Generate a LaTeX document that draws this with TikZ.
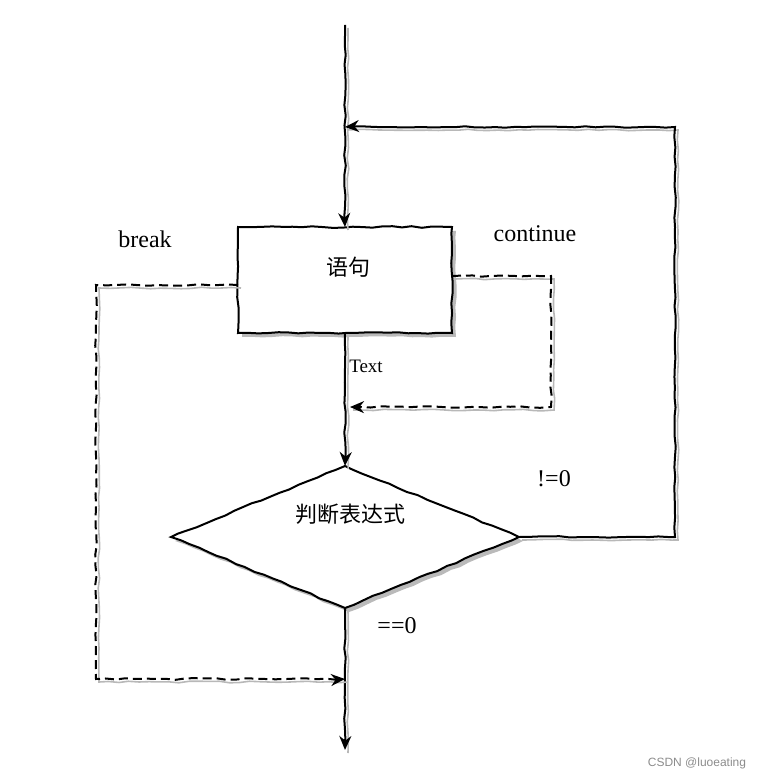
\documentclass[tikz,border=0pt]{standalone}
\usepackage{fontspec}
\setmainfont{Liberation Serif}
\newfontfamily\cjk{Noto Sans CJK SC}
\newfontfamily\wmfont{Liberation Sans}
\usetikzlibrary{arrows.meta,positioning,calc,shapes.geometric,decorations.pathmorphing,shadows}

\pgfmathsetseed{7}
\tikzset{
  sketch/.style={decorate, decoration={random steps, segment length=10pt, amplitude=0.8pt}},
  ghost/.style={preaction={draw=black!28, line width=1.6pt, arrows=-, transform canvas={shift={(3pt,-3pt)}}}},
  flow/.style={sketch, ghost, line width=2pt, -{Stealth[length=14pt,width=12pt]}},
  jump/.style={flow, dash pattern=on 9pt off 5pt},
  stmtbox/.style={draw, sketch, line width=2pt, fill=white, inner sep=0, outer sep=0,
    minimum width=214pt, minimum height=106pt,
    drop shadow={shadow xshift=4pt, shadow yshift=-4pt, fill=black!30, opacity=0.9}},
  testbox/.style={draw, diamond, sketch, line width=2pt, fill=white, inner sep=0, outer sep=0,
    minimum width=348pt, minimum height=142pt,
    drop shadow={shadow xshift=4pt, shadow yshift=-4pt, fill=black!30, opacity=0.9}},
  cjklabel/.style={font=\cjk\fontsize{22}{26}\selectfont},
  lbl/.style={font=\fontsize{24}{28}\selectfont},
  wmark/.style={font=\wmfont\fontsize{12}{14}\selectfont, text=black!45}
}

\begin{document}
\begin{tikzpicture}[x=1pt, y=1pt]
  \useasboundingbox (0,0) rectangle (763,-776);

  % shapes
  \node[stmtbox] (stmt) at (345,-280) {};
  \node[testbox] (cond) at (345,-537) {};
  \node[cjklabel] (stmttext) at (348,-267) {语句};
  \node[cjklabel] (condtext) at (350,-514) {判断表达式};

  % helper points
  \coordinate (start) at (345,-25);
  \coordinate (loopc) at (675,-127);
  \coordinate (contc) at (551,-407);
  \coordinate (brkc) at (96,-679);
  \coordinate (finish) at (345,-750);

  % main flow
  \draw[flow] (start) -- (stmt.north);
  \draw[flow] (stmt.south) -- (cond.north);
  \draw[flow] (cond.south) -- (finish);
  \draw[flow] (cond.east) -- (cond.east -| loopc) -- (loopc) -- (loopc -| stmt.north);

  % jumps
  \draw[jump] ($(stmt.east)+(0,4)$) -- ($(stmt.east -| contc)+(0,4)$) -- (contc)
    -- ($(contc -| stmt.south)+(5,0)$);
  \draw[jump] ($(stmt.west)+(0,-5)$) -- ($(stmt.west -| brkc)+(0,-5)$) -- (brkc)
    -- (brkc -| stmt.south);

  % labels
  \node[lbl] (brklbl) at (145,-239) {break};
  \node[lbl] (contlbl) at (535,-234) {continue};
  \node[font=\fontsize{19}{22}\selectfont] (textlbl) at (366,-366) {Text};
  \node[lbl] (nelbl) at (554,-479) {!=0};
  \node[lbl] (eqlbl) at (397,-626) {==0};
  \node[wmark] (credit) at (697,-763) {CSDN @luoeating};
\end{tikzpicture}
\end{document}
